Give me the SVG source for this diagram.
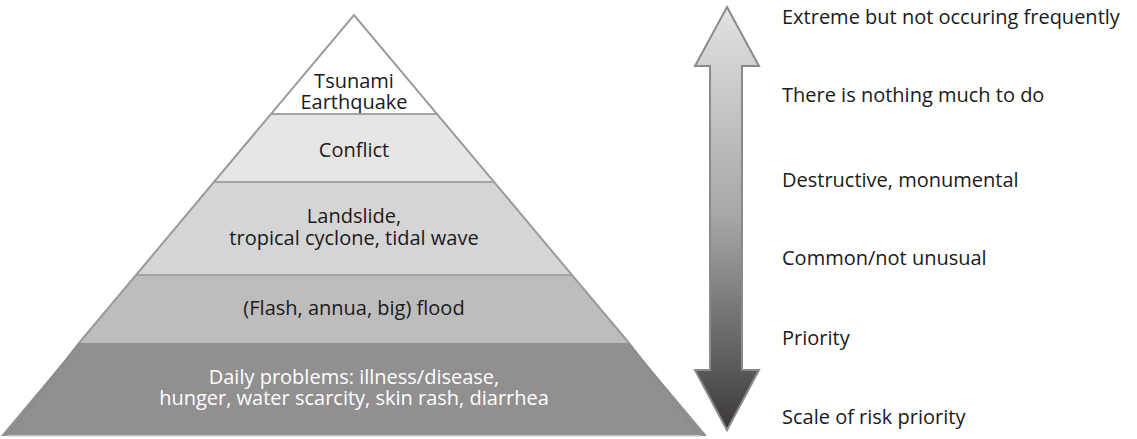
<svg xmlns="http://www.w3.org/2000/svg" width="1137" height="439" viewBox="0 0 1137 439">
<style>
text{font-family:"Open Sans","Noto Sans","Liberation Sans",sans-serif;font-size:20px;fill:#1a1a1a}
.c{text-anchor:middle}
.w{fill:#ffffff}
.band{stroke:none}
.sep{stroke:#a3a3a3;stroke-width:2}
</style>
<defs>
<linearGradient id="ag" x1="0" y1="0" x2="0" y2="1">
<stop offset="0" stop-color="#e2e2e2"/>
<stop offset="0.5" stop-color="#a6a6a6"/>
<stop offset="1" stop-color="#3c3839"/>
</linearGradient>
</defs>
<g id="pyramid">
<g id="layer-tsunami">
<polygon class="band" points="354,15 437,114 271,114" fill="#ffffff"/>
<text class="c" x="354" y="88">Tsunami</text>
<text class="c" x="354" y="109">Earthquake</text>
</g>
<g id="layer-conflict">
<polygon class="band" points="271,114 437,114 494,182 214,182" fill="#e6e6e6"/>
<text class="c" x="354" y="157">Conflict</text>
</g>
<g id="layer-landslide">
<polygon class="band" points="214,182 494,182 572,275 136,275" fill="#d5d5d5"/>
<text class="c" x="354" y="223">Landslide,</text>
<text class="c" x="354" y="245">tropical cyclone, tidal wave</text>
</g>
<g id="layer-flood">
<polygon class="band" points="136,275 572,275 629,343 79,343" fill="#bdbdbd"/>
<text class="c" x="354" y="315">(Flash, annua, big) flood</text>
</g>
<g id="layer-daily">
<polygon class="band" points="79,343 629,343 707,436 1,436" fill="#918f90"/>
<text class="c w" x="354" y="384">Daily problems: illness/disease,</text>
<text class="c w" x="354" y="405">hunger, water scarcity, skin rash, diarrhea</text>
</g>
<line class="sep" x1="271" y1="114" x2="437" y2="114"/>
<line class="sep" x1="214" y1="182" x2="494" y2="182"/>
<line class="sep" x1="136" y1="275" x2="572" y2="275"/>
<polyline points="79,343 354,15 629,343" fill="none" stroke="#9a9a9a" stroke-width="2" stroke-linejoin="miter"/>
<line x1="79" y1="343" x2="7" y2="436" stroke="#8c8a8b" stroke-width="2"/>
<line x1="629" y1="343" x2="701" y2="436" stroke="#8c8a8b" stroke-width="2"/>
<line x1="7" y1="436" x2="701" y2="436" stroke="#d9d9d9" stroke-width="1.5"/>
</g>
<g id="connectors">
<polygon id="scale-arrow" points="727,7 759,66 742,66 742,370 759,370 727,430 695,370 710,370 710,66 695,66" fill="url(#ag)" stroke="#8a8a8a" stroke-width="2" stroke-linejoin="miter"/>
</g>
<g id="labels">
<text x="782" y="24">Extreme but not occuring frequently</text>
<text x="782" y="102">There is nothing much to do</text>
<text x="782" y="187">Destructive, monumental</text>
<text x="782" y="265">Common/not unusual</text>
<text x="782" y="345">Priority</text>
<text x="782" y="424">Scale of risk priority</text>
</g>
</svg>
